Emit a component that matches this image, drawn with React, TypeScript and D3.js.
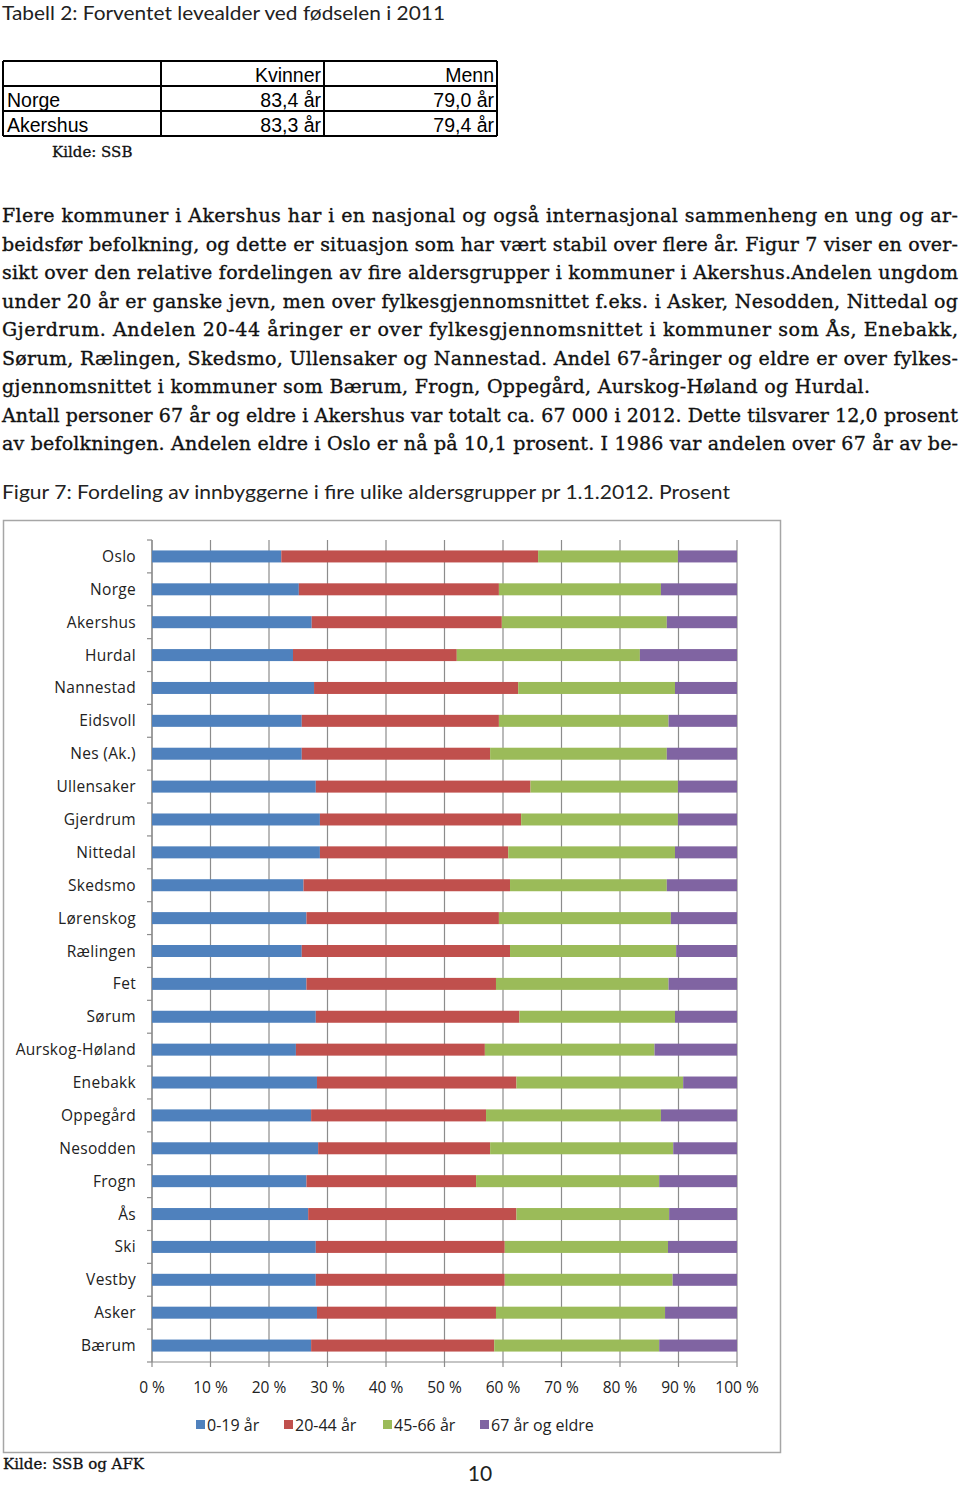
import React from "react";
import * as d3 from "d3";

const categories = ["Oslo","Norge","Akershus","Hurdal","Nannestad","Eidsvoll","Nes (Ak.)","Ullensaker","Gjerdrum","Nittedal","Skedsmo","Lørenskog","Rælingen","Fet","Sørum","Aurskog-Høland","Enebakk","Oppegård","Nesodden","Frogn","Ås","Ski","Vestby","Asker","Bærum"];
const age0_19 = [22.1,25.1,27.3,24.1,27.7,25.6,25.6,28.0,28.7,28.7,25.9,26.4,25.6,26.4,28.0,24.6,28.2,27.2,28.4,26.4,26.7,28.0,28.0,28.2,27.2];
const age20_44 = [43.9,34.2,32.5,28.0,34.9,33.7,32.2,36.7,34.4,32.2,35.3,32.9,35.6,32.4,34.8,32.3,34.1,29.9,29.4,29.0,35.6,32.3,32.3,30.6,31.3];
const age45_66 = [23.9,27.7,28.2,31.3,26.8,29.0,30.2,25.2,26.8,28.5,26.8,29.4,28.4,29.5,26.6,29.0,28.5,29.9,31.3,31.3,26.1,27.9,28.7,28.9,28.2];
const age67 = [10.1,13.0,12.0,16.6,10.6,11.7,12.0,10.1,10.1,10.6,12.0,11.3,10.4,11.7,10.6,14.1,9.2,13.0,10.9,13.3,11.6,11.8,11.0,12.3,13.3];
const seriesNames = ["0-19 år","20-44 år","45-66 år","67 år og eldre"];
const seriesColors = ["#4F81BD","#C0504D","#9BBB59","#8064A2"];
const xTicks = [0,10,20,30,40,50,60,70,80,90,100];

const tableHeader = ["", "Kvinner", "Menn"];
const tableRows = [["Norge","83,4 år","79,0 år"],["Akershus","83,3 år","79,4 år"]];

const paragraph = [
  {t:"Flere kommuner i Akershus har i en nasjonal og også internasjonal sammenheng en ung og ar-", j:true},
  {t:"beidsfør befolkning, og dette er situasjon som har vært stabil over flere år. Figur 7 viser en over-", j:true},
  {t:"sikt over den relative fordelingen av fire aldersgrupper i kommuner i Akershus.Andelen ungdom", j:true},
  {t:"under 20 år er ganske jevn, men over fylkesgjennomsnittet f.eks. i Asker, Nesodden, Nittedal og", j:true},
  {t:"Gjerdrum. Andelen 20-44 åringer er over fylkesgjennomsnittet i kommuner som Ås, Enebakk,", j:true},
  {t:"Sørum, Rælingen, Skedsmo, Ullensaker og Nannestad. Andel 67-åringer og eldre er over fylkes-", j:true},
  {t:"gjennomsnittet i kommuner som Bærum, Frogn, Oppegård, Aurskog-Høland og Hurdal.", j:false},
  {t:"Antall personer 67 år og eldre i Akershus var totalt ca. 67 000 i 2012. Dette tilsvarer 12,0 prosent", j:true},
  {t:"av befolkningen. Andelen eldre i Oslo er nå på 10,1 prosent. I 1986 var andelen over 67 år av be-", j:true},
];

const SANS = "Lato, 'Open Sans', sans-serif";
const SERIF = "'DejaVu Serif', serif";
const ARIAL = "'Liberation Sans', Arial, sans-serif";
const CHART = "'Open Sans', 'Noto Sans', sans-serif";

export default function App() {
  const plotLeft = 152, plotRight = 737, plotTop = 540, plotBottom = 1362;
  const x = d3.scaleLinear().domain([0, 100]).range([plotLeft, plotRight]);
  const pi = 0.635;
  const y = d3.scaleBand().domain(categories).range([plotTop, plotBottom]).paddingInner(pi).paddingOuter(pi / 2);
  const data = categories.map((c, i) => ({ cat: c, s0: age0_19[i], s1: age20_44[i], s2: age45_66[i], s3: age67[i] }));
  const stack = d3.stack<any>().keys(["s0", "s1", "s2", "s3"]);
  const stacked = stack(data);
  const step = y.step();

  const colX = [3, 161, 324, 497];
  const rowY = [61, 86, 111, 136];

  const legendX = [196, 284, 383, 480];

  return (
    <svg width={960} height={1486} style={{ position: "absolute", left: 0, top: 0, background: "#fff" }}>
      <rect x={0} y={0} width={960} height={1486} fill="#fff" />
      <text x={2} y={20} fontFamily={SANS} fontWeight={400} fontSize={20} fill="#222" textLength={443} lengthAdjust="spacingAndGlyphs">Tabell 2: Forventet levealder ved fødselen i 2011</text>

      {/* table */}
      <g>
        {rowY.map((yy, i) => (
          <line key={"h" + i} x1={colX[0]} x2={colX[3]} y1={yy} y2={yy} stroke="#000" strokeWidth={2} />
        ))}
        {colX.map((xx, i) => (
          <line key={"v" + i} x1={xx} x2={xx} y1={rowY[0]} y2={rowY[3]} stroke="#000" strokeWidth={2} />
        ))}
        {tableHeader.map((h, i) => i > 0 ? (
          <text key={"th" + i} x={colX[i + 1] - 3} y={rowY[1] - 4} textAnchor="end" fontFamily={ARIAL} fontSize={19.5} fill="#000">{h}</text>
        ) : null)}
        {tableRows.map((r, ri) => r.map((cell, ci) => (
          <text key={"c" + ri + ci} x={ci === 0 ? colX[0] + 4 : colX[ci + 1] - 3} y={rowY[ri + 2] - 4}
            textAnchor={ci === 0 ? "start" : "end"} fontFamily={ARIAL} fontSize={19.5} fill="#000">{cell}</text>
        )))}
      </g>
      <text x={52} y={157} fontFamily={SERIF} fontSize={15} fill="#111" stroke="#111" strokeWidth={0.3}>Kilde: SSB</text>

      {/* paragraph */}
      {paragraph.map((p, i) => (
        <text key={"p" + i} x={2} y={222 + i * 28.55} fontFamily={SERIF} fontSize={19} fill="#111" stroke="#111" strokeWidth={0.35}
          textLength={p.j ? 956 : 868} lengthAdjust="spacing">{p.t}</text>
      ))}

      <text x={2} y={499} fontFamily={SANS} fontWeight={400} fontSize={20} fill="#222" textLength={728} lengthAdjust="spacingAndGlyphs">Figur 7: Fordeling av innbyggerne i fire ulike aldersgrupper pr 1.1.2012. Prosent</text>

      {/* chart frame */}
      <rect x={3.5} y={520.5} width={777} height={932} fill="#fff" stroke="#a6a6a6" strokeWidth={1.5} />

      {/* gridlines */}
      {xTicks.map(t => (
        <line key={"g" + t} x1={x(t)} x2={x(t)} y1={plotTop} y2={plotBottom + (t === 0 ? 0 : 5)} stroke="#8c8c8c" strokeWidth={1.2} />
      ))}
      {/* left axis */}
      <line x1={plotLeft} x2={plotLeft} y1={plotTop} y2={plotBottom + 5} stroke="#8c8c8c" strokeWidth={1.2} />
      {d3.range(categories.length + 1).map(i => (
        <line key={"lt" + i} x1={plotLeft - 5} x2={plotLeft} y1={plotTop + i * step} y2={plotTop + i * step} stroke="#8c8c8c" strokeWidth={1.2} />
      ))}
      <line x1={plotLeft} x2={plotRight} y1={plotBottom} y2={plotBottom} stroke="#8c8c8c" strokeWidth={1.2} />

      {/* bars */}
      {stacked.map((s, si) => (
        <g key={"s" + si} fill={seriesColors[si]}>
          {s.map((d, di) => (
            <rect key={di} x={x(d[0])} y={y(categories[di])!} width={x(d[1]) - x(d[0])} height={y.bandwidth()} />
          ))}
        </g>
      ))}

      {/* category labels */}
      {categories.map(c => (
        <text key={"cl" + c} x={136} y={y(c)! + y.bandwidth() / 2 + 5.5} textAnchor="end" fontFamily={CHART} fontSize={15.5} fill="#222" letterSpacing={0.3}>{c}</text>
      ))}

      {/* x tick labels */}
      {xTicks.map(t => (
        <text key={"xl" + t} x={x(t)} y={1393} textAnchor="middle" fontFamily={CHART} fontSize={15.5} fill="#222">{t} %</text>
      ))}

      {/* legend */}
      {seriesNames.map((n, i) => (
        <g key={"lg" + i}>
          <rect x={legendX[i]} y={1420} width={9} height={9} fill={seriesColors[i]} />
          <text x={legendX[i] + 11} y={1431} fontFamily={CHART} fontSize={16} fill="#222">{n}</text>
        </g>
      ))}

      <text x={3} y={1469} fontFamily={SERIF} fontSize={15} fill="#111" stroke="#111" strokeWidth={0.3}>Kilde: SSB og AFK</text>
      <text x={480} y={1481} textAnchor="middle" fontFamily={SANS} fontWeight={400} fontSize={21} fill="#222">10</text>
    </svg>
  );
}
